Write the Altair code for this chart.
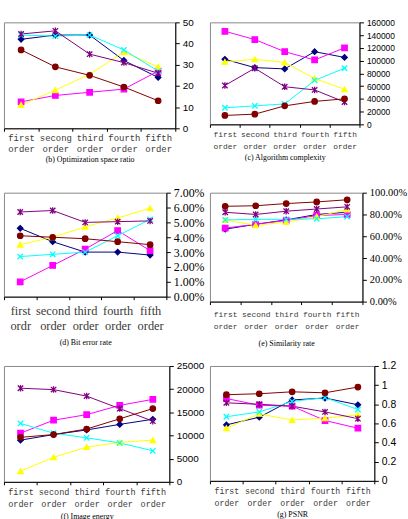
import altair as alt
import pandas as pd

# Series keys, colours and marker shapes shared by every panel
SERIES = ["navy", "magenta", "yellow", "cyan", "purple", "maroon"]
COLORS = ["#000080", "#FF00FF", "#FFFF00", "#00FFFF", "#800080", "#800000"]
X_PATH = "M-1,-1L1,1M-1,1L1,-1"
STAR_PATH = "M-1,-1L1,1M-1,1L1,-1M0,-1.2L0,1.2"
SHAPES = ["diamond", "square", "triangle-up", X_PATH, STAR_PATH, "circle"]

ORDERS = ["first|order", "second|order", "third|order", "fourth|order", "fifth|order"]
ORDERS_B = ["first|order", "secong|order", "third|order", "fourth|order", "fifth|order"]
ORDERS_D = ["first|ordr", "second|order", "third|order", "fourth|order", "fifth|order"]

# (b) Optimization space ratio
b_navy = [42, 44, 44, 32, 24]
b_magenta = [12.5, 15.5, 17, 18.5, 27]
b_yellow = [11, 18, 25.5, 36, 29]
b_cyan = [44, 43.5, 44, 37, 27]
b_purple = [44.5, 46, 35, 31, 26]
b_maroon = [37, 29, 25, 19.5, 13]

# (c) Algorithm complexity
c_navy = [102000, 89000, 87000, 114000, 105000]
c_magenta = [146000, 133000, 114000, 101000, 120000]
c_yellow = [98000, 102000, 97000, 72000, 55000]
c_cyan = [26000, 29000, 32000, 69000, 88000]
c_purple = [61000, 88000, 59000, 54000, 35000]
c_maroon = [14000, 16000, 29000, 36000, 40000]

# (d) Bit error rate
d_navy = [0.046, 0.037, 0.030, 0.030, 0.028]
d_magenta = [0.010, 0.021, 0.032, 0.0445, 0.031]
d_yellow = [0.035, 0.040, 0.047, 0.053, 0.0595]
d_cyan = [0.027, 0.0285, 0.030, 0.041, 0.052]
d_purple = [0.057, 0.058, 0.050, 0.0505, 0.051]
d_maroon = [0.041, 0.040, 0.039, 0.037, 0.035]

# (e) Similarity rate
e_navy = [0.665, 0.71, 0.75, 0.80, 0.82]
e_magenta = [0.675, 0.71, 0.745, 0.79, 0.80]
e_yellow = [0.75, 0.70, 0.73, 0.78, 0.845]
e_cyan = [0.75, 0.755, 0.755, 0.76, 0.78]
e_purple = [0.82, 0.80, 0.83, 0.85, 0.87]
e_maroon = [0.875, 0.88, 0.90, 0.915, 0.935]

# (f) Image energy
f_navy = [9000, 10200, 11200, 12400, 13500]
f_magenta = [10500, 13300, 14500, 16500, 17800]
f_yellow = [2300, 5300, 7500, 8500, 9000]
f_cyan = [12600, 10500, 9500, 8400, 6700]
f_purple = [20200, 19900, 18500, 15800, 13100]
f_maroon = [9600, 10200, 11400, 13600, 15800]

# (g) PSNR
g_navy = [0.585, 0.665, 0.845, 0.865, 0.795]
g_magenta = [0.86, 0.79, 0.78, 0.63, 0.55]
g_yellow = [0.55, 0.70, 0.635, 0.655, 0.69]
g_cyan = [0.67, 0.72, 0.83, 0.87, 0.745]
g_purple = [0.815, 0.80, 0.78, 0.72, 0.65]
g_maroon = [0.90, 0.91, 0.93, 0.92, 0.98]

SANS = "Liberation Sans"
SERIF = "Liberation Serif"
MONO = "Liberation Mono"


def long_table(orders, series_values):
    rows = []
    for name, vals in zip(SERIES, series_values):
        for o, v in zip(orders, vals):
            rows.append({"order": o, "series": name, "value": v})
    return pd.DataFrame(rows)


def panel(orders, series_values, caption, width, height, y_values, y_format,
          y_font, y_size, x_font, x_size, x_line, x_pad, cap_pad):
    df = long_table(orders, series_values)
    x = alt.X(
        "order:N",
        sort=orders,
        bandPosition=0.5,
        scale=alt.Scale(type="band", paddingInner=0, paddingOuter=0),
        axis=alt.Axis(
            title=caption,
            titleFont=SERIF,
            titleFontSize=8,
            titleFontWeight="normal",
            titleColor="#000",
            titlePadding=cap_pad,
            tickBand="extent",
            tickSize=3,
            tickColor="#000",
            domainColor="#000",
            labelExpr="split(datum.label, '|')",
            labelFont=x_font,
            labelFontSize=x_size,
            labelLineHeight=x_line,
            labelColor="#3a3a3a",
            labelPadding=x_pad,
            labelOverlap=False,
            labelAngle=0,
        ),
    )
    y = alt.Y(
        "value:Q",
        scale=alt.Scale(domain=[y_values[0], y_values[-1]], nice=False, zero=True),
        axis=alt.Axis(
            orient="right",
            title=None,
            values=y_values,
            format=y_format,
            grid=False,
            tickSize=4,
            tickColor="#000",
            domainColor="#000",
            labelFont=y_font,
            labelFontSize=y_size,
            labelColor="#000",
            labelPadding=3,
            labelFlush=False,
        ),
    )
    color = alt.Color("series:N", scale=alt.Scale(domain=SERIES, range=COLORS), legend=None)
    stroke = alt.Stroke("series:N", scale=alt.Scale(domain=SERIES, range=COLORS), legend=None)
    shape = alt.Shape("series:N", scale=alt.Scale(domain=SERIES, range=SHAPES), legend=None)

    base = alt.Chart(df)
    lines = base.mark_line(strokeWidth=1).encode(x=x, y=y, color=color, detail="series:N")
    points = base.mark_point(filled=True, size=30, strokeWidth=1.3, opacity=1).encode(
        x=x, y=y, color=color, stroke=stroke, shape=shape
    )
    return alt.layer(lines, points).properties(width=width, height=height)


pb = panel(ORDERS_B, [b_navy, b_magenta, b_yellow, b_cyan, b_purple, b_maroon],
           "(b) Optimization space ratio", 173, 107, [0, 10, 20, 30, 40, 50], "d",
           SANS, 10, MONO, 9, 11, 2, 3)
pc = panel(ORDERS, [c_navy, c_magenta, c_yellow, c_cyan, c_purple, c_maroon],
           "(c) Algorithm complexity", 151, 103,
           [0, 20000, 40000, 60000, 80000, 100000, 120000, 140000, 160000], "d",
           SANS, 8.5, MONO, 8, 12, 3, 4)
pd_ = panel(ORDERS_D, [d_navy, d_magenta, d_yellow, d_cyan, d_purple, d_maroon],
            "(d) Bit error rate", 164, 105,
            [0, 0.01, 0.02, 0.03, 0.04, 0.05, 0.06, 0.07], ".2%",
            SERIF, 12, SERIF, 12.5, 15, 5, 7)
pe = panel(ORDERS, [e_navy, e_magenta, e_yellow, e_cyan, e_purple, e_maroon],
           "(e) Similarity rate", 154, 110, [0, 0.2, 0.4, 0.6, 0.8, 1.0], ".2%",
           SERIF, 10.5, MONO, 8, 12, 6, 9)
pf = panel(ORDERS, [f_navy, f_magenta, f_yellow, f_cyan, f_purple, f_maroon],
           "(f) Image energy", 167, 117, [0, 5000, 10000, 15000, 20000, 25000], "d",
           SANS, 10, MONO, 8.6, 12, 3, 4)
pg = panel(ORDERS, [g_navy, g_magenta, g_yellow, g_cyan, g_purple, g_maroon],
           "(g) PSNR", 166, 116, [0, 0.2, 0.4, 0.6, 0.8, 1.0, 1.2], "~g",
           SANS, 10.5, MONO, 8.3, 12, 3, 4)

chart = (
    alt.concat(
        pb, pc, pd_, pe, pf, pg,
        columns=2,
        spacing={"row": 65, "column": 35},
        bounds="flush",
    )
    .properties(padding={"left": 3, "top": 14, "right": 0, "bottom": 0}, background="white")
    .configure_view(stroke="#888", strokeWidth=1)
)

chart.save("out.html", embed_options={"renderer": "svg", "actions": False})
